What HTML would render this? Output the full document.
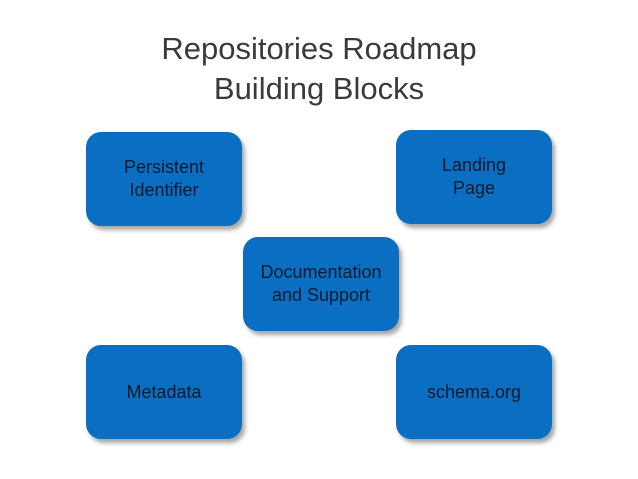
<!DOCTYPE html>
<html><head><style>
body{margin:0;width:638px;height:479px;background:#fff;position:relative;overflow:hidden;font-family:"Liberation Sans",sans-serif}
.t{position:absolute;left:0;width:638px;text-align:center;color:#3a3a3a;font-size:31px;line-height:40px}
.b{position:absolute;width:156px;height:94px;background:#0a6fc2;border-radius:15px;box-shadow:3px 4px 4px rgba(0,0,0,.35);display:flex;align-items:center;justify-content:center;text-align:center;color:#0d1a2e;font-size:18px;line-height:23px}
</style></head><body>
<div class="t" style="top:29px">Repositories Roadmap</div>
<div class="t" style="top:69px">Building Blocks</div>
<div class="b" style="left:86px;top:132px">Persistent<br>Identifier</div>
<div class="b" style="left:396px;top:130px">Landing<br>Page</div>
<div class="b" style="left:243px;top:237px">Documentation<br>and Support</div>
<div class="b" style="left:86px;top:345px">Metadata</div>
<div class="b" style="left:396px;top:345px">schema.org</div>
</body></html>
